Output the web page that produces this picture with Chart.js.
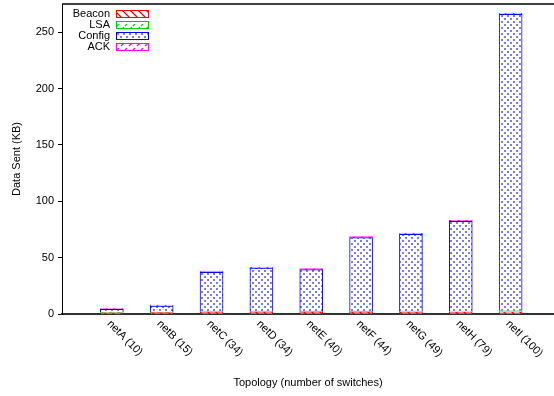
<!DOCTYPE html>
<html>
<head>
<meta charset="utf-8">
<script src="https://cdn.jsdelivr.net/npm/chart.js@4"></script>
<style>
  body { margin: 0; background: #fff; }
  #wrap { width: 554px; height: 396px; }
</style>
</head>
<body>
<div id="wrap"><canvas id="myChart"></canvas></div>
<script>
const topologies = ['netA (10)', 'netB (15)', 'netC (34)', 'netD (34)', 'netE (40)',
                    'netF (44)', 'netG (49)', 'netH (79)', 'netI (100)'];
const beacon = [1.0, 1.2, 1.5, 1.5, 1.6, 1.6, 1.7, 1.8, 2.0];
const lsa    = [0.5, 0.6, 0.6, 0.6, 0.7, 0.7, 0.7, 0.8, 0.9];
const config = [2.6, 5.3, 34.9, 38.6, 37.0, 65.4, 68.3, 79.6, 262.9];
const ack    = [0.8, 0.9, 1.0, 1.0, 1.0, 1.0, 1.1, 1.1, 1.2];
const yTicks = [0, 50, 100, 150, 200, 250];

const FONT = 'Liberation Sans, Arial, sans-serif';

// gnuplot-like fill patterns
function makePattern(kind, color) {
  const c = document.createElement('canvas');
  const s = kind === 'dots' ? 6 : 8;
  c.width = s; c.height = s;
  const g = c.getContext('2d');
  g.fillStyle = '#fff';
  g.fillRect(0, 0, s, s);
  g.strokeStyle = color;
  g.fillStyle = color;
  g.lineWidth = 1.3;
  if (kind === 'back') {
    g.beginPath();
    g.moveTo(0, 0); g.lineTo(s, s);
    g.moveTo(-1, s - 1); g.lineTo(1, s + 1);
    g.moveTo(s - 1, -1); g.lineTo(s + 1, 1);
    g.stroke();
  } else if (kind === 'dash') {
    g.beginPath();
    g.moveTo(1, 6); g.lineTo(4, 3);
    g.moveTo(5, 2); g.lineTo(7, 0);
    g.stroke();
  } else if (kind === 'dots') {
    g.globalAlpha = 0.6;
    g.fillRect(0, 0, 2, 2);
    g.fillRect(3, 3, 2, 2);
  }
  return document.getElementById('myChart').getContext('2d').createPattern(c, 'repeat');
}

const series = [
  { label: 'Beacon', data: beacon, color: '#ff0000', fill: makePattern('back', '#ff0000') },
  { label: 'LSA',    data: lsa,    color: '#00cc00', fill: makePattern('dash', '#00dd00') },
  { label: 'Config', data: config, color: '#0000ff', fill: makePattern('dots', '#2222ff') },
  { label: 'ACK',    data: ack,    color: '#ff00ff', fill: makePattern('dash', '#ff00ff') }
];

// legend, top frame line and rotated x labels
const extras = {
  id: 'extras',
  afterDraw(chart) {
    const { ctx, chartArea: a, scales } = chart;
    ctx.save();
    ctx.strokeStyle = '#000';
    ctx.lineWidth = 1.5;
    ctx.beginPath();
    ctx.moveTo(a.left, a.top);
    ctx.lineTo(a.right, a.top);
    ctx.stroke();

    ctx.font = '11px ' + FONT;
    ctx.fillStyle = '#000';
    series.forEach((s, i) => {
      const y = 14 + i * 11;
      ctx.textAlign = 'right';
      ctx.textBaseline = 'middle';
      ctx.fillText(s.label, 110, y);
      ctx.fillStyle = s.fill;
      ctx.fillRect(116, y - 3, 33, 6);
      ctx.strokeStyle = s.color;
      ctx.lineWidth = 1;
      ctx.strokeRect(116.5, y - 3.5, 32, 7);
      ctx.fillStyle = '#000';
    });

    topologies.forEach((t, i) => {
      const x = scales.x.getPixelForValue(i);
      ctx.save();
      ctx.translate(x - 3, a.bottom + 8);
      ctx.rotate(Math.PI / 4);
      ctx.textAlign = 'left';
      ctx.textBaseline = 'middle';
      ctx.fillText(t, 0, 0);
      ctx.restore();
    });
    ctx.restore();
  }
};

const ctx = document.getElementById('myChart');

const chart = new Chart(ctx, {
  type: 'bar',
  data: {
    datasets: series.map(s => ({
      label: s.label,
      data: s.data.map((v, i) => ({ x: i, y: v })),
      backgroundColor: s.fill,
      borderColor: s.color,
      borderWidth: 1,
      barThickness: 23
    }))
  },
  options: {
    responsive: true,
    maintainAspectRatio: false,
    animation: false,
    layout: { padding: 0 },
    plugins: { legend: { display: false }, tooltip: { enabled: false } },
    scales: {
      x: {
        type: 'linear',
        stacked: true,
        offset: false,
        min: -1,
        max: 8.87,
        afterFit: s => { s.height = 82; s.paddingLeft = 0; s.paddingRight = 0; },
        grid: { display: false },
        border: { color: '#333', width: 2 },
        ticks: { display: false },
        title: {
          display: true,
          text: 'Topology (number of switches)',
          color: '#000',
          font: { family: FONT, size: 11 },
          padding: { top: 0, bottom: 6 }
        }
      },
      y: {
        stacked: true,
        min: 0,
        max: 275,
        afterFit: s => { s.width = 62; s.paddingTop = 4; s.paddingBottom = 0; },
        afterBuildTicks: s => { s.ticks = yTicks.map(v => ({ value: v })); },
        grid: { drawOnChartArea: false, color: '#000', tickLength: 4 },
        border: { color: '#000', width: 1 },
        ticks: {
          color: '#000',
          padding: 4,
          font: { family: FONT, size: 11 }
        },
        title: {
          display: true,
          text: 'Data Sent (KB)',
          color: '#000',
          font: { family: FONT, size: 11 },
          padding: { top: 10, bottom: 0 }
        }
      }
    }
  },
  plugins: [extras]
});
</script>
</body>
</html>
